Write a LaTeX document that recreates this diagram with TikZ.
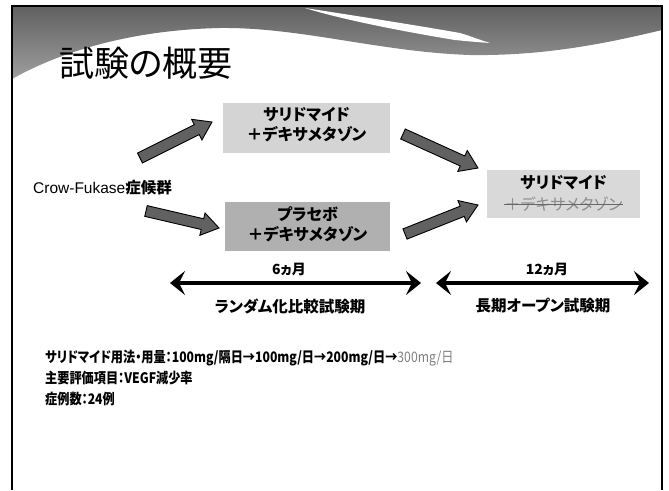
\documentclass[tikz,border=0pt]{standalone}
\usepackage{fontspec}
\setmainfont{Liberation Sans}
\newfontfamily\jp[RawFeature=+palt]{Noto Sans CJK JP}
\usetikzlibrary{calc,arrows.meta}
\tikzset{
  boxA/.style={rectangle, fill=black!17, minimum width=167pt, minimum height=50pt, inner sep=0pt},
  boxB/.style={rectangle, fill=black!31, minimum width=165pt, minimum height=49pt, inner sep=0pt},
  boxC/.style={rectangle, fill=black!15, minimum width=153pt, minimum height=48pt, inner sep=0pt},
  boxtext/.style={inner sep=0pt, font=\jp\bfseries\fontsize{16}{20}\selectfont, align=center},
  barrow/.style={fill=black!62, draw=black, line width=0.9pt, line join=miter},
  period/.style={line width=3.6pt, {Stealth[length=15pt,width=24pt,inset=6pt]}-{Stealth[length=15pt,width=24pt,inset=6pt]}},
  lbl/.style={inner sep=0pt, font=\jp\bfseries\fontsize{14}{16}\selectfont},
  lblb/.style={inner sep=0pt, font=\jp\bfseries\fontsize{15.5}{18}\selectfont},
  body/.style={inner sep=0pt, anchor=west, xscale=0.84, transform shape, font=\jp\bfseries\fontsize{14.5}{17}\selectfont},
  frame/.style={line width=2pt, black}
}
\newcommand\blockarr[2]{%
  \coordinate (bah) at ($(#2)!17pt!(#1)$);
  \filldraw[barrow] ($(#1)!5.5pt!90:(#2)$) -- ($(bah)!5.5pt!90:(#2)$) -- ($(bah)!11.5pt!90:(#2)$) -- (#2)
    -- ($(bah)!11.5pt!-90:(#2)$) -- ($(bah)!5.5pt!-90:(#2)$) -- ($(#1)!5.5pt!-90:(#2)$) -- cycle;
}
\begin{document}
\begin{tikzpicture}[x=1pt,y=-1pt]
\useasboundingbox (0,0) rectangle (669,490);
\fill[white] (0,0) rectangle (669,490);
% header wave
\shade[top color=black!62, bottom color=black!38]
  (12,7) -- (662,7) -- (662,30)
  .. controls (600,45) and (540,56) .. (470,55)
  .. controls (380,52) and (300,27) .. (220,28)
  .. controls (130,30) and (60,52) .. (12,79) -- cycle;
\fill[white] (305,8) .. controls (370,18) and (420,26) .. (460,33)
  .. controls (470,36) and (480,40) .. (490,43)
  .. controls (475,42) and (465,41) .. (455,40)
  .. controls (400,31) and (340,19) .. (305,8) -- cycle;
% frame
\draw[frame] (12,490) -- (12,6) -- (662,6) -- (662,490);
% title
\node[inner sep=0pt, anchor=west, font=\jp\fontsize{35}{40}\selectfont] (title) at (59,63) {試験の概要};
% nodes
\node[inner sep=0pt, anchor=west, font=\fontsize{15.5}{18}\selectfont] (crow) at (33,188) {Crow-Fukase{\jp\bfseries 症候群}};
\node[boxA] (b1) at (306.5,128) {};
\node[boxtext] (b1t) at (306.5,125) {サリドマイド\\＋デキサメタゾン};
\node[boxB] (b2) at (307.5,226) {};
\node[boxtext] (b2t) at (307.5,224) {プラセボ\\＋デキサメタゾン};
\node[boxC] (b3) at (563.5,194) {};
\node[boxtext] (b3a) at (563.5,183) {サリドマイド};
\node[boxtext, text=black!45, font=\jp\fontsize{16}{20}\selectfont] (b3b) at (563.5,204) {＋デキサメタゾン};
\draw[black!60, line width=0.8pt] (b3b.west) -- (b3b.east);
% block arrows
\coordinate (a1s) at (140,158); \coordinate (a1t) at (212,122);
\coordinate (a2s) at (146,211); \coordinate (a2t) at (219,228);
\coordinate (a3s) at (403,134); \coordinate (a3t) at (478,168);
\coordinate (a4s) at (405,234); \coordinate (a4t) at (478,205);
\blockarr{a1s}{a1t}
\blockarr{a2s}{a2t}
\blockarr{a3s}{a3t}
\blockarr{a4s}{a4t}
% period arrows
\coordinate (p1a) at (170,283); \coordinate (p1b) at (421,283);
\coordinate (p2a) at (436,283); \coordinate (p2b) at (649,283);
\draw[period] (p1a) -- (p1b);
\draw[period] (p2a) -- (p2b);
\node[lbl] (m6) at (289,269) {6ヵ月};
\node[lbl] (m12) at (547,269) {12ヵ月};
\node[lblb] (ph1) at (290,306) {ランダム化比較試験期};
\node[lblb] (ph2) at (543,306) {長期オープン試験期};
% body text
\node[body] (l1) at (45,358) {サリドマイド用法・用量：100mg/隔日→100mg/日→200mg/日→{\mdseries\color{black!50}300mg/日}};
\node[body] (l2) at (45,378) {主要評価項目：VEGF減少率};
\node[body] (l3) at (45,399) {症例数：24例};
\end{tikzpicture}
\end{document}
